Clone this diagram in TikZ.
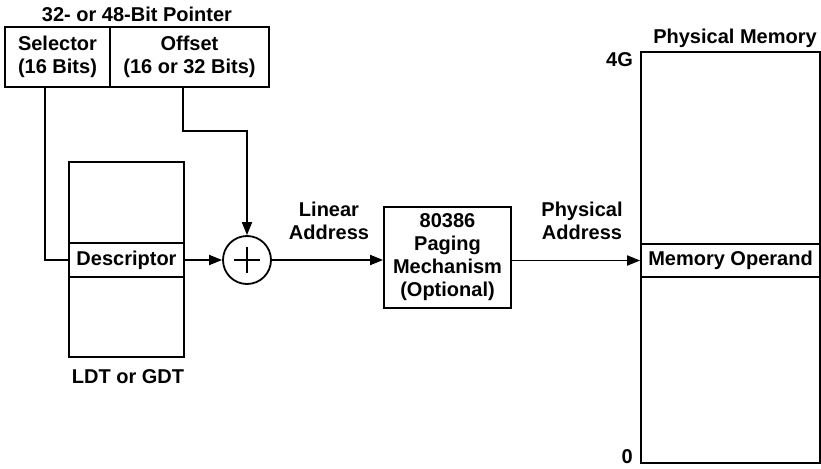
\documentclass[tikz,border=0pt]{standalone}
\usepackage{fontspec}
\setmainfont{Liberation Sans}
\usetikzlibrary{arrows.meta, positioning}

\begin{document}
\begin{tikzpicture}[
  x=1pt, y=-1pt,
  every node/.style={font=\fontsize{20}{23}\selectfont\bfseries, inner sep=0pt},
  field/.style={rectangle, draw, line width=1.8pt, align=center},
  band/.style={rectangle, draw, line width=1.8pt, align=center},
  adderstyle/.style={circle, draw, line width=1.8pt, minimum size=48pt},
  link/.style={line width=1.8pt},
  arrow/.style={-{Triangle[length=13pt, width=10pt]}, line width=1.8pt},
  label/.style={align=center}
]
  \useasboundingbox (0,0) rectangle (821,468);

  % pointer
  \node[label] (ptrtitle) at (137,14) {32- or 48-Bit Pointer};
  \node[field, minimum width=105pt, minimum height=60pt] (selector) at (57.5,57) {Selector\\(16 Bits)};
  \node[field, minimum width=159pt, minimum height=60pt] (offset) at (189.5,57) {Offset\\(16 or 32 Bits)};

  % descriptor table
  \node[field, minimum width=115pt, minimum height=195pt] (table) at (126.5,259.5) {};
  \node[band, minimum width=115pt, minimum height=34pt] (desc) at (126.5,260) {Descriptor};
  \node[label] (tablelabel) at (128,377) {LDT or GDT};

  % adder
  \node[adderstyle] (adder) at (247,260) {};
  \draw[line width=1.3pt] ([xshift=-13]adder.center) -- ([xshift=13]adder.center);
  \draw[line width=1.3pt] ([yshift=-13]adder.center) -- ([yshift=13]adder.center);

  % paging unit
  \node[field, minimum width=127pt, minimum height=101pt] (paging) at (447.5,257.5) {80386\\Paging\\Mechanism\\(Optional)};
  \node[label] (linlabel) at (329,221) {Linear\\Address};
  \node[label] (physlabel) at (582,221) {Physical\\Address};

  % physical memory
  \node[field, minimum width=179pt, minimum height=411pt] (memory) at (730.5,257.5) {};
  \node[band, minimum width=179pt, minimum height=33pt] (oper) at (730.5,260.5) {Memory Operand};
  \node[label] (memlabel) at (735,38) {Physical Memory};
  \node[label, anchor=east] (top) at (633,60) {4G};
  \node[label, anchor=east] (bottom) at (633,457) {0};

  % connectors
  \draw[link] ([xshift=-12.5]selector.south) |- (desc.west);
  \draw[arrow] ([xshift=-6.5]offset.south) -- ++(0,43) -| (adder.north);
  \draw[arrow] (desc.east) -- (adder.west);
  \draw[arrow] (adder.east) -- (adder.east -| paging.west);
  \draw[arrow] (paging.east |- oper.west) -- (oper.west);
\end{tikzpicture}
\end{document}
